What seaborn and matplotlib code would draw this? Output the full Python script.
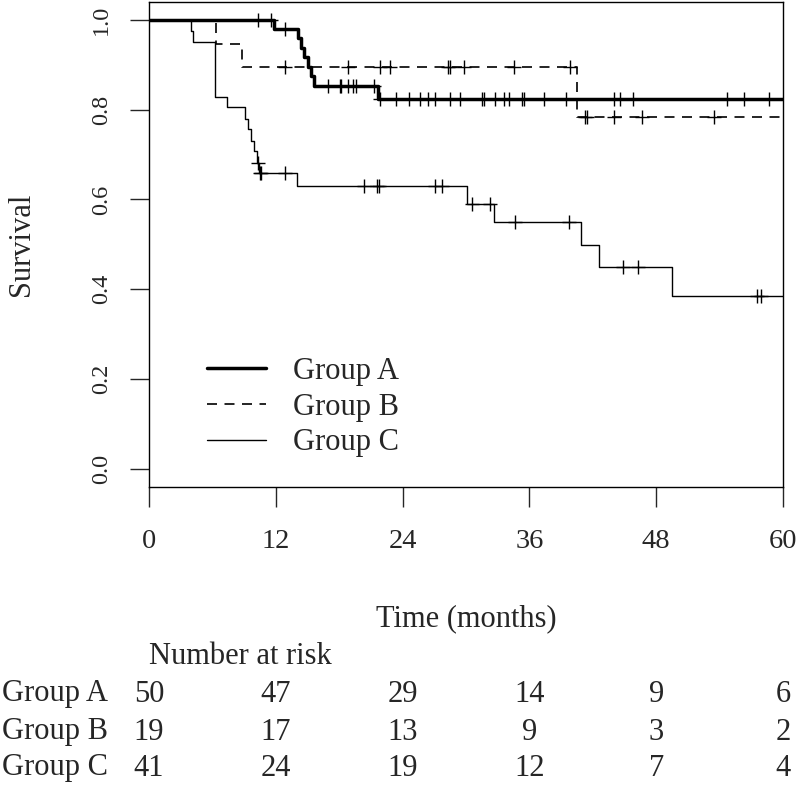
#%% import
import numpy as np
import matplotlib
matplotlib.use("Agg")
import matplotlib.pyplot as plt
import matplotlib.transforms as mtransforms
import seaborn as sns

#%% data
# step times (months) and survival level after each step
a_times = [0, 11.86, 14.1, 14.35, 14.65, 15.0, 15.3, 15.65, 21.7]
a_surv = [1.0, 0.980, 0.959, 0.938, 0.917, 0.896, 0.874, 0.853, 0.823]
a_cens = [10.35, 11.55, 12.87, 16.9, 18.07, 18.2, 18.86, 19.3, 19.55, 21.3, 21.9,
          23.37, 24.63, 25.65, 26.4, 27.07, 28.49, 29.43, 31.5, 31.7, 32.7, 33.55,
          34.07, 35.3, 35.5, 37.38, 39.46, 43.96, 44.57, 45.77, 54.67, 56.3, 58.67]

b_times = [0, 6.3, 8.8, 40.5]
b_surv = [1.0, 0.947, 0.894, 0.783]
b_cens = [12.87, 18.86, 21.86, 22.8, 28.3, 28.45, 29.84, 34.54, 39.84,
          41.3, 41.45, 44.0, 46.7, 53.5]

c_times = [0, 3.94, 4.2, 6.25, 7.35, 9.08, 9.4, 9.62, 9.94, 10.2, 10.45,
           13.97, 30.1, 32.65, 40.85, 42.6, 49.5]
c_surv = [1.0, 0.976, 0.951, 0.829, 0.805, 0.780, 0.756, 0.731, 0.707, 0.682, 0.658,
          0.629, 0.590, 0.549, 0.499, 0.449, 0.385]
c_cens = [10.35, 10.5, 10.6, 12.87, 20.35, 21.6, 21.75, 27.1, 27.75, 30.6, 32.27,
          34.6, 39.75, 44.9, 46.3, 57.5, 57.9]

group_names = ["Group A", "Group B", "Group C"]
risk_times = [0, 12, 24, 36, 48, 60]
risk_a = [50, 47, 29, 14, 9, 6]
risk_b = [19, 17, 13, 9, 3, 2]
risk_c = [41, 24, 19, 12, 7, 4]

x_ticks = [0, 12, 24, 36, 48, 60]
y_ticks = [0.0, 0.2, 0.4, 0.6, 0.8, 1.0]

#%% style
sns.set_style("ticks")
plt.rcParams["font.family"] = ["Liberation Serif", "DejaVu Serif"]
plt.rcParams["axes.linewidth"] = 1.0

fig = plt.figure(figsize=(8, 7.85), dpi=100)
ax = fig.add_axes([0.18625, 0.38, 0.7925, 0.6175])

styles = [dict(lw=2.5, ls="-"),
          dict(lw=1.2, ls=(0, (6, 4.5))),
          dict(lw=1.0, ls="-")]
curves = [(a_times, a_surv, a_cens), (b_times, b_surv, b_cens), (c_times, c_surv, c_cens)]

for name, (tt, ss, cc), st in zip(group_names, curves, styles):
    xs = list(tt) + [60]
    ys = list(ss) + [ss[-1]]
    sns.lineplot(x=xs, y=ys, drawstyle="steps-post", color="black", estimator=None,
                 sort=False, label=name, ax=ax, **st)
    idx = np.searchsorted(tt, cc, side="right") - 1
    sns.scatterplot(x=cc, y=np.asarray(ss)[idx], marker="+", s=100, color="black",
                    linewidth=1.0, legend=False, ax=ax, zorder=3)

#%% axes
ax.set_xlim(0, 60)
ax.set_ylim(-0.04, 1.04)
ax.set_xticks(x_ticks)
ax.set_xticklabels([str(t) for t in x_ticks])
ax.set_yticks(y_ticks)
ax.set_yticklabels([f"{v:.1f}" for v in y_ticks], rotation=90, va="center")
ax.tick_params(axis="x", length=14.4, width=1.0, pad=16, labelsize=20.5)
ax.tick_params(axis="y", length=13.7, width=1.0, pad=13, labelsize=17.5)
for sp in ax.spines.values():
    sp.set_visible(True)
    sp.set_color("black")

ax.set_xlabel("Time (months)", fontsize=22, va="center")
ax.xaxis.set_label_coords(0.5, (486.7 - 619) / 484.7)
ax.set_ylabel("Survival", fontsize=22, va="center")
ax.yaxis.set_label_coords((22 - 149) / 634, 0.5)

ax.legend(loc="upper left", bbox_to_anchor=(0.0915, 0.268), frameon=False,
          handlelength=1.93, handletextpad=0.88, labelspacing=0.22,
          borderpad=0, borderaxespad=0, fontsize=22)

#%% number at risk
trans = mtransforms.blended_transform_factory(ax.transData, fig.transFigure)
fig.text(149 / 800, 1 - 657 / 785, "Number at risk", ha="left", va="center", fontsize=22)
row_y = [1 - 694 / 785, 1 - 732 / 785, 1 - 768 / 785]
for name, risk, yy in zip(group_names, [risk_a, risk_b, risk_c], row_y):
    fig.text(2 / 800, yy, name, ha="left", va="center", fontsize=22)
    for t, n in zip(risk_times, risk):
        ax.text(t, yy, str(n), transform=trans, ha="center", va="center",
                fontsize=22, clip_on=False)

plt.savefig("out.png", dpi=100)
